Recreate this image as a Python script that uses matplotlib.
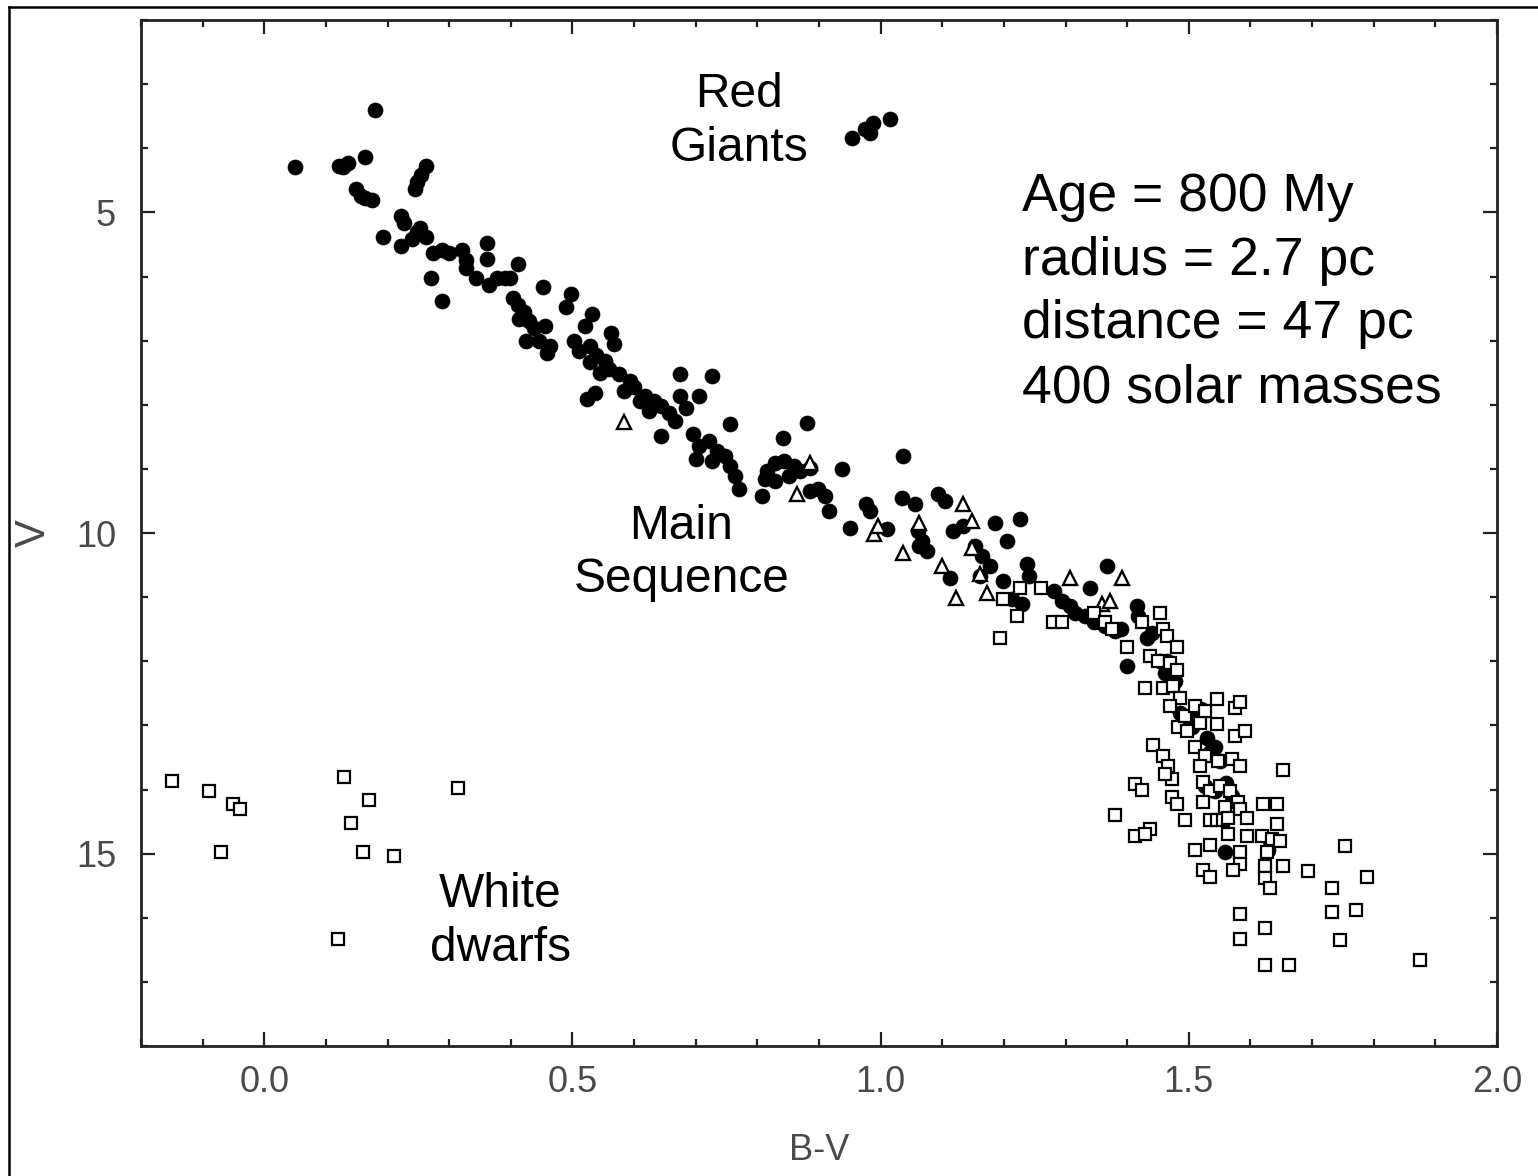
#! /usr/bin/env python3

import matplotlib
matplotlib.use('Agg')
import matplotlib.pyplot as plt
from matplotlib.lines import Line2D
from matplotlib.ticker import MultipleLocator

# B-V colour and V magnitude
wd_bv = [-0.15, -0.09, -0.05, -0.04, -0.07, 0.13, 0.17, 0.14, 0.16, 0.21, 0.315, 0.12]
wd_v = [13.86, 14.02, 14.23, 14.31, 14.98, 13.81, 14.17, 14.52, 14.98, 15.03, 13.98, 16.33]

giant_bv = [0.953, 0.982, 0.987, 1.016, 0.975]
giant_v = [3.84, 3.77, 3.61, 3.55, 3.70]

dot_bv = [0.05, 0.122, 0.135, 0.128, 0.164, 0.18, 0.263, 0.255, 0.248, 0.245,
          0.149, 0.157, 0.174, 0.164, 0.222, 0.227, 0.247, 0.24, 0.263, 0.252,
          0.193, 0.221, 0.273, 0.289, 0.30, 0.321, 0.328, 0.328, 0.344, 0.362,
          0.362, 0.271, 0.289, 0.411, 0.377, 0.365, 0.39, 0.398, 0.453, 0.403,
          0.411, 0.422, 0.414, 0.43, 0.438, 0.455, 0.446, 0.425, 0.463, 0.458,
          0.498, 0.49, 0.532, 0.521, 0.563, 0.568, 0.503, 0.511, 0.528, 0.539,
          0.552, 0.528, 0.56, 0.544, 0.576, 0.523, 0.536, 0.593, 0.584, 0.60,
          0.617, 0.609, 0.633, 0.625, 0.644, 0.657, 0.674, 0.727, 0.674, 0.685,
          0.706, 0.644, 0.666, 0.755, 0.695, 0.706, 0.722, 0.735, 0.727, 0.747,
          0.755, 0.763, 0.771, 0.701, 0.841, 0.88, 0.815, 0.828, 0.844, 0.86,
          0.852, 0.869, 0.885, 0.828, 0.807, 0.812, 0.938, 0.885, 0.898, 0.909,
          0.917, 0.95, 0.977, 0.982, 1.01, 1.034, 1.055, 1.036, 1.06, 1.067,
          1.076, 1.063, 1.093, 1.104, 1.117, 1.133, 1.185, 1.226, 1.205, 1.153,
          1.164, 1.177, 1.161, 1.112, 1.198, 1.237, 1.24, 1.213, 1.229, 1.282,
          1.294, 1.307, 1.315, 1.339, 1.367, 1.331, 1.347, 1.364, 1.38, 1.416,
          1.417, 1.432, 1.44, 1.399, 1.453, 1.461, 1.477, 1.485, 1.498, 1.51,
          1.505, 1.534, 1.542, 1.526, 1.542, 1.558, 1.631, 1.628,
          1.36, 1.39, 1.465, 1.47, 1.49, 1.52, 1.50, 1.53, 1.55, 1.56, 1.57]
dot_v = [4.30, 4.27, 4.23, 4.30, 4.14, 3.41, 4.28, 4.42, 4.53, 4.64,
         4.63, 4.75, 4.80, 4.78, 5.05, 5.16, 5.31, 5.41, 5.39, 5.25,
         5.39, 5.53, 5.64, 5.59, 5.64, 5.59, 5.75, 5.86, 6.02, 5.47,
         5.73, 6.02, 6.38, 5.81, 6.02, 6.14, 6.03, 6.02, 6.17, 6.34,
         6.45, 6.56, 6.66, 6.69, 6.81, 6.77, 7.00, 7.00, 7.08, 7.19,
         6.27, 6.48, 6.58, 6.77, 6.88, 7.05, 7.00, 7.16, 7.08, 7.23,
         7.31, 7.34, 7.44, 7.50, 7.52, 7.91, 7.81, 7.63, 7.78, 7.73,
         7.86, 7.94, 7.94, 8.09, 8.02, 8.13, 7.52, 7.55, 7.86, 8.05,
         7.86, 8.48, 8.25, 8.30, 8.45, 8.64, 8.56, 8.72, 8.88, 8.80,
         8.95, 9.11, 9.31, 8.84, 8.52, 8.28, 9.03, 8.91, 8.88, 8.95,
         9.11, 9.03, 8.98, 9.19, 9.42, 9.16, 9.00, 9.34, 9.31, 9.42,
         9.66, 9.92, 9.55, 9.66, 9.94, 9.45, 9.55, 8.80, 9.97, 10.13,
         10.28, 10.20, 9.39, 9.50, 9.97, 9.89, 9.84, 9.78, 10.13, 10.20,
         10.36, 10.52, 10.67, 10.70, 10.75, 10.48, 10.67, 11.03, 11.11, 10.91,
         11.06, 11.14, 11.25, 10.86, 10.52, 11.30, 11.38, 11.45, 11.53, 11.14,
         11.30, 11.64, 11.56, 12.08, 12.00, 12.19, 12.31, 12.81, 12.91, 12.81,
         13.02, 13.41, 13.33, 13.95, 14.03, 14.97, 14.78, 14.94,
         11.40, 11.50, 12.00, 12.20, 12.85, 12.75, 13.00, 13.20, 13.55, 13.90, 14.10]

tri_bv = [0.584, 0.865, 0.885, 0.99, 0.995, 1.036, 1.063, 1.133, 1.148, 1.099,
          1.123, 1.148, 1.161, 1.172, 1.307, 1.391, 1.359, 1.372]
tri_v = [8.27, 9.39, 8.91, 10.02, 9.89, 10.31, 9.84, 9.55, 9.81, 10.52,
         11.02, 10.23, 10.64, 10.94, 10.70, 10.70, 11.11, 11.06]

sq_bv = [1.226, 1.261, 1.198, 1.221, 1.193, 1.279, 1.295, 1.347, 1.364, 1.375,
         1.399, 1.424, 1.453, 1.458, 1.464, 1.481, 1.437, 1.45, 1.469, 1.481,
         1.429, 1.458, 1.474, 1.485, 1.545, 1.575, 1.583, 1.469, 1.482, 1.494,
         1.51, 1.518, 1.526, 1.497, 1.545, 1.575, 1.591, 1.442, 1.458, 1.466,
         1.472, 1.461, 1.51, 1.526, 1.547, 1.518, 1.570, 1.583, 1.653, 1.412,
         1.424, 1.472, 1.481, 1.523, 1.534, 1.55, 1.567, 1.58, 1.523, 1.558,
         1.583, 1.62, 1.643, 1.38, 1.494, 1.534, 1.545, 1.555, 1.563, 1.594,
         1.643, 1.437, 1.412, 1.429, 1.563, 1.594, 1.619, 1.635, 1.648, 1.51,
         1.534, 1.583, 1.583, 1.627, 1.523, 1.534, 1.571, 1.623, 1.653, 1.623,
         1.631, 1.693, 1.753, 1.789, 1.732, 1.583, 1.623, 1.732, 1.771, 1.583,
         1.745, 1.623, 1.662, 1.875]
sq_v = [10.86, 10.86, 11.03, 11.30, 11.64, 11.38, 11.38, 11.25, 11.38, 11.50,
        11.77, 11.38, 11.25, 11.50, 11.61, 11.77, 11.92, 12.00, 12.03, 12.13,
        12.42, 12.42, 12.39, 12.58, 12.59, 12.73, 12.63, 12.70, 13.02, 12.86,
        12.70, 12.97, 12.78, 13.09, 12.98, 13.17, 13.09, 13.30, 13.48, 13.64,
        13.83, 13.75, 13.33, 13.48, 13.56, 13.64, 13.53, 13.64, 13.69, 13.91,
        14.00, 14.11, 14.23, 13.88, 14.03, 13.95, 14.03, 14.19, 14.19, 14.27,
        14.31, 14.23, 14.23, 14.39, 14.47, 14.47, 14.47, 14.47, 14.45, 14.45,
        14.53, 14.61, 14.73, 14.69, 14.69, 14.73, 14.73, 14.77, 14.80, 14.94,
        14.86, 14.97, 15.16, 14.97, 15.25, 15.36, 15.25, 15.20, 15.20, 15.38,
        15.53, 15.27, 14.88, 15.36, 15.53, 15.94, 16.16, 15.91, 15.88, 16.33,
        16.34, 16.73, 16.73, 16.66]

plt.rcParams['font.family'] = ['Liberation Sans', 'DejaVu Sans']

fig = plt.figure(figsize=(15.38, 11.76), dpi=100)
ax = fig.add_axes([0.0917, 0.1105, 0.8816, 0.8725])

ax.plot(dot_bv + giant_bv, dot_v + giant_v, 'o', color='black', ms=10.8,
        mec='black', mew=0.5, linestyle='none')
ax.plot(tri_bv, tri_v, '^', mfc='white', mec='black', ms=10.5, mew=1.7,
        linestyle='none')
ax.plot(sq_bv + wd_bv, sq_v + wd_v, 's', mfc='white', mec='black', ms=8.5,
        mew=1.6, linestyle='none')

ax.set_xlim(-0.2, 2.0)
ax.set_ylim(18, 2)
ax.xaxis.set_major_locator(MultipleLocator(0.5))
ax.xaxis.set_minor_locator(MultipleLocator(0.1))
ax.yaxis.set_major_locator(MultipleLocator(5))
ax.yaxis.set_minor_locator(MultipleLocator(1))
ax.set_xticks([0.0, 0.5, 1.0, 1.5, 2.0])
ax.set_xticklabels(['0.0', '0.5', '1.0', '1.5', '2.0'])

grey = '#4a4a4a'
ax.tick_params(which='both', direction='in', top=True, right=True,
               color='#222222', width=1.6)
ax.tick_params(which='major', length=10, labelsize=26, labelcolor=grey, pad=14)
ax.tick_params(which='minor', length=5)
ax.tick_params(axis='y', which='major', pad=18)
for sp in ax.spines.values():
    sp.set_linewidth(2)
    sp.set_color('#222222')

ax.set_xlabel('B-V', fontsize=26, color=grey)
ax.xaxis.set_label_coords(0.5, -0.085)
ax.set_ylabel('V', fontsize=30, color=grey)
ax.yaxis.set_label_coords(-0.064, 0.5)

ax.text(0.771, 3.58, 'Red\nGiants', fontsize=34.5, ha='center', va='center',
        linespacing=1.26)
ax.text(0.677, 10.31, 'Main\nSequence', fontsize=34.5, ha='center',
        va='center', linespacing=1.24)
ax.text(0.383, 16.06, 'White\ndwarfs', fontsize=34.5, ha='center',
        va='center', linespacing=1.26)
ax.text(1.229, 6.25, 'Age = 800 My\nradius = 2.7 pc\ndistance = 47 pc\n'
        '400 solar masses', fontsize=38.5, ha='left', va='center',
        linespacing=1.35)

# outer picture frame, only its top and left edges are inside the image
fig.add_artist(Line2D([9 / 1538, 9 / 1538], [0, 1 - 7 / 1176], color='black',
                      lw=1.8, transform=fig.transFigure))
fig.add_artist(Line2D([9 / 1538, 1], [1 - 7 / 1176, 1 - 7 / 1176],
                      color='black', lw=1.8, transform=fig.transFigure))

fig.savefig('out.png', dpi=100)
